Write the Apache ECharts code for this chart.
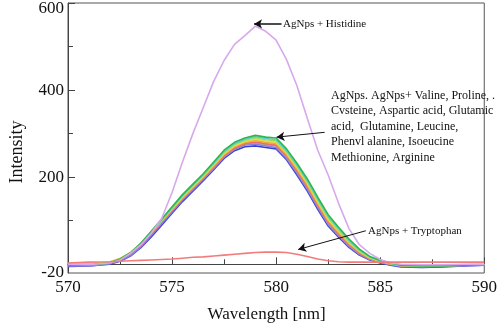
<!DOCTYPE html>
<html>
<head>
<meta charset="utf-8">
<script src="https://cdn.jsdelivr.net/npm/echarts@6/dist/echarts.min.js"></script>
<style>
  html, body { margin: 0; padding: 0; background: #fff; }
  #main { width: 500px; height: 328px; }
</style>
</head>
<body>
<div id="main"></div>
<script>
// wavelength samples [nm]
const wavelengths = [570, 571, 572, 572.5, 573, 573.5, 574, 574.5, 575, 575.5, 576, 576.5, 577, 577.5, 578, 578.5, 579, 579.5, 580, 580.5, 581, 581.5, 582, 582.5, 583, 583.5, 584, 584.5, 585, 585.5, 586, 587, 588, 589, 590]

// the bundle of amino acid curves
const blue = [-5, -4, 0, 7, 19, 38, 63, 90, 117, 144, 168, 192, 217, 243, 261, 270, 272, 268, 265, 240, 205, 168, 126, 88, 62, 39, 21, 10, 3, -2, -6, -7, -6, -4, -2]
const purple = [-4, -4, 1, 8, 20, 40, 66, 93, 120, 147, 171, 195, 220, 246, 264, 274, 276, 272, 268, 243, 209, 172, 130, 91, 65, 41, 23, 11, 4, -1, -5, -6, -5, -3, -2]
const grey = [-2, -2, 3, 12, 27, 48, 74, 100, 126, 152, 175, 198, 222, 248, 266, 276, 279, 275, 272, 247, 213, 176, 134, 95, 68, 44, 25, 12, 5, 0, -3, -4, -3, -2, -1]
const red = [0, -1, 3, 11, 24, 44, 70, 97, 124, 150, 174, 198, 223, 249, 267, 277, 281, 277, 274, 249, 215, 178, 136, 97, 70, 45, 26, 13, 5, 1, -3, -4, -3, -2, -1]
const orange = [2, 1, 5, 13, 26, 46, 72, 99, 126, 152, 176, 200, 226, 252, 270, 280, 284, 280, 277, 252, 219, 182, 140, 100, 73, 48, 28, 14, 6, 1, -2, -3, -2, -1, 0]
const yellow = [1, 0, 5, 13, 27, 47, 73, 100, 127, 154, 178, 202, 228, 254, 272, 282, 287, 283, 280, 255, 222, 186, 143, 103, 76, 50, 30, 15, 7, 2, -2, -3, -2, -1, 0]
const lightGreen = [-1, -1, 4, 12, 26, 47, 74, 101, 129, 156, 180, 204, 230, 257, 275, 285, 290, 286, 283, 258, 226, 189, 147, 107, 79, 52, 31, 16, 7, 2, -3, -4, -3, -2, -1]
const cyan = [-2, -2, 3, 11, 25, 47, 74, 102, 130, 158, 182, 206, 232, 259, 277, 287, 293, 289, 286, 261, 228, 192, 150, 110, 82, 55, 33, 17, 8, 2, -2, -3, -3, -2, -1]
const green = [-2, -2, 3, 12, 26, 48, 76, 104, 132, 160, 184, 208, 235, 262, 280, 290, 296, 292, 290, 265, 232, 196, 154, 114, 85, 58, 35, 18, 9, 3, -2, -3, -3, -2, -1]

const histidine = [0, -1, 3, 10, 25, 45, 72, 105, 165, 235, 300, 360, 420, 468, 505, 525, 547, 535, 515, 470, 410, 335, 262, 205, 140, 82, 45, 25, 11, 3, 0, -1, -1, 0, 0]
const tryptophan = [3, 5, 6, 7, 8, 9, 10, 11, 12, 14, 16, 17, 19, 21, 23, 25, 27, 28, 28, 27, 23, 18, 12, 8, 6, 5, 5, 5, 5, 5, 5, 5, 5, 5, 5]

const yLabelValues = [-20, 200, 400, 600]
const yMajorTicks = [200, 400, 600]
const yMinorTicks = [100, 300, 500]

const bundle = [
  { data: blue, color: '#3441d6' },
  { data: purple, color: '#8c7be0' },
  { data: grey, color: '#a0a0a0' },
  { data: red, color: '#ec6d6d' },
  { data: orange, color: '#f2a548' },
  { data: yellow, color: '#e6dc3c' },
  { data: lightGreen, color: '#a6de5c' },
  { data: cyan, color: '#58cfd8' },
  { data: green, color: '#2fb64a' },
]

const serif = '"Liberation Serif", "DejaVu Serif", serif'
const pairs = (vals) => wavelengths.map((w, i) => [w, vals[i]])

const arrow = (from, to, width) => [
  { coord: to, lineStyle: { color: '#111', width: width, type: 'solid' } },
  { coord: from },
]

const series = bundle.map(b => ({
  type: 'line',
  data: pairs(b.data),
  showSymbol: false,
  lineStyle: { color: b.color, width: 1.6 },
  z: 3,
}))
series.push({
  type: 'line',
  data: pairs(histidine),
  showSymbol: false,
  lineStyle: { color: '#d8a8ec', width: 1.6 },
  z: 3,
})
series.push({
  type: 'line',
  data: pairs(tryptophan),
  showSymbol: false,
  lineStyle: { color: '#f07c7c', width: 1.6 },
  z: 3,
  markLine: {
    silent: true,
    symbol: ['arrow', 'none'],
    symbolSize: [7, 8],
    label: { show: false },
    animation: false,
    data: [
      arrow([580.26, 552], [578.94, 552], 1.5),
      arrow([582.33, 303], [580.02, 292], 1),
      arrow([584.31, 77], [581.06, 34], 1),
    ],
  },
})

const chart = echarts.init(document.getElementById('main'))
chart.setOption({
  animation: false,
  grid: {
    left: 63,
    right: 12,
    top: 3,
    bottom: 51,
    show: true,
    borderColor: '#555',
    borderWidth: 1,
  },
  xAxis: {
    type: 'value',
    min: 570,
    max: 590,
    interval: 5,
    name: 'Wavelength [nm]',
    nameLocation: 'middle',
    nameGap: 33,
    nameTextStyle: { fontFamily: serif, fontSize: 17, color: '#111', padding: [0, 19, 0, 0] },
    axisLine: { lineStyle: { color: '#444', width: 1 } },
    axisTick: { inside: true, length: 7, lineStyle: { color: '#444' } },
    minorTick: { show: true, splitNumber: 2, length: 5, lineStyle: { color: '#444' } },
    splitLine: { show: false },
    axisLabel: { fontFamily: serif, fontSize: 17, color: '#111', margin: 6 },
  },
  yAxis: [
    {
      type: 'value',
      min: -20,
      max: 600,
      name: 'Intensity',
      nameLocation: 'middle',
      nameGap: 42,
      nameTextStyle: { fontFamily: serif, fontSize: 18, color: '#111', padding: [0, 28, 0, 0] },
      axisLine: { show: true, lineStyle: { color: '#444', width: 1 } },
      axisTick: { show: true, inside: true, length: 7, customValues: yMajorTicks, lineStyle: { color: '#444' } },
      splitLine: { show: false },
      axisLabel: {
        customValues: yLabelValues,
        fontFamily: serif,
        fontSize: 17,
        color: '#111',
        margin: 4,
        formatter: v => (v === 600 ? '{t|600}' : String(v)),
        rich: { t: { fontFamily: serif, fontSize: 17, color: '#111', padding: [11, 0, 0, 0] } },
      },
    },
    {
      type: 'value',
      min: -20,
      max: 600,
      position: 'left',
      axisLine: { show: false },
      axisTick: { show: true, inside: true, length: 5, customValues: yMinorTicks, lineStyle: { color: '#444' } },
      axisLabel: { show: false },
      splitLine: { show: false },
    },
  ],
  graphic: [
    {
      type: 'text',
      x: 283, y: 24,
      style: { text: 'AgNps + Histidine', fontFamily: serif, fontSize: 11, fill: '#111', verticalAlign: 'middle' },
    },
    {
      type: 'text',
      x: 331, y: 88,
      style: {
        text: 'AgNps. AgNps+ Valine, Proline, .\nCvsteine, Aspartic acid, Glutamic\nacid,  Glutamine, Leucine,\nPhenvl alanine, Isoeucine\nMethionine, Arginine',
        fontFamily: serif, fontSize: 12, lineHeight: 15.5, fill: '#111', verticalAlign: 'top',
      },
    },
    {
      type: 'text',
      x: 368, y: 231,
      style: { text: 'AgNps + Tryptophan', fontFamily: serif, fontSize: 11, fill: '#111', verticalAlign: 'middle' },
    },
  ],
  series: series,
})
</script>
</body>
</html>
